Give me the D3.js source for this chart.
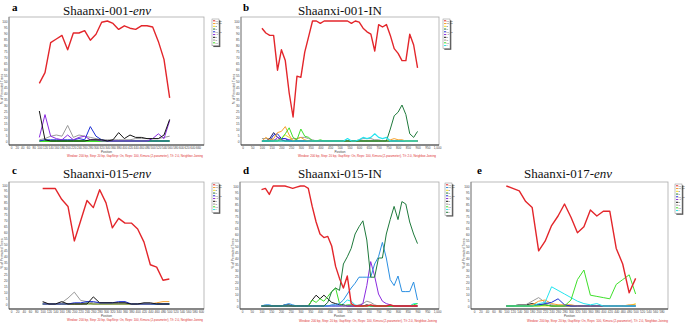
<!DOCTYPE html>
<html><head><meta charset="utf-8">
<script src="https://cdn.jsdelivr.net/npm/d3@7"></script>
<style>body{margin:0;background:#fff}svg{display:block}</style>
</head><body>
<svg id="chart" width="685" height="324"></svg>
<script>
// ---------- data ----------
const yTicks = [0,5,10,15,20,25,30,35,40,45,50,55,60,65,70,75,80,85,90,95,100];
const xTicksA = [0,20,40,60,80,100,120,140,160,180,200,220,240,260,280,300,320,340,360,380,400,420,440,460,480,500,520,540,560,580,600,620,640,660];
const xTicksB = [0,50,100,150,200,250,300,350,400,450,500,550,600,650,700,750,800,850,900,950,1000];
const xTicksC = [0,20,40,60,80,100,120,140,160,180,200,220,240,260,280,300,320,340,360,380,400,420,440,460,480,500,520,540,560,580,600];
const xTicksE = [0,20,40,60,80,100,120,140,160,180,200,220,240,260,280,300,320,340,360,380,400,420,440,460,480,500,520,540,560,580];

// Panel a: Shaanxi-001-env
const posA    = [100,120,140,160,180,200,220,240,260,280,300,320,340,360,380,400,420,440,460,480,500,520,540,560];
const redA    = [48,57,82,85,88,76,90,90,92,84,89,99,100,98,93,96,94,93,96,96,95,83,68,36];
const blackA  = [25,1,0,0,0,0,0,0,0,1,1,1,0,1,7,2,5,3,3,2,2,2,5,18];
const purpleA = [3,22,4,2,1,5,1,3,4,1,1,0,0,0,0,0,0,0,0,0,2,6,2,17];
const grayA   = [1,2,4,5,4,13,3,5,4,3,2,1,1,1,1,1,1,2,2,2,2,2,3,4];
const blueA   = [0,1,1,1,1,1,1,2,1,12,4,1,0,0,0,0,0,0,0,0,0,0,0,0];
const greenA  = [0,0,0,0,0,0,0,0,0,0,0,0,0,0,0,0,0,0,0,0,0,0,0,0];

// Panel b: Shaanxi-001-IN
const posB    = [100,120,140,160,180,200,220,240,260,280,300,320,340,360,380,400,420,440,460,480,500,520,540,560,580,600,620,640,660,680,700,720,740,760,780,800,820,840,860,880,900];
const redB    = [94,90,88,88,59,76,67,40,20,54,53,74,87,100,100,98,100,100,100,100,100,100,100,98,100,99,94,91,89,75,97,95,97,88,77,73,67,67,89,80,61];
const dkgreenB= [0,0,0,0,0,0,0,0,0,0,0,0,0,0,0,0,0,0,0,0,0,0,0,0,0,0,0,0,0,0,0,0,0,10,21,24,30,22,6,3,8];
const orangeB = [0,3,1,2,7,8,12,5,0,2,3,1,0,0,0,0,0,0,0,0,0,0,0,0,0,0,0,0,0,0,0,0,0,1,2,1,1,0,0,0,0];
const greenB  = [0,0,0,0,0,2,6,11,3,1,10,4,3,0,0,1,0,0,0,0,0,0,0,0,0,0,0,0,0,0,0,0,0,0,0,0,0,0,0,0,0];
const navyB   = [0,0,2,7,3,1,0,0,0,0,0,0,0,0,0,0,0,0,0,0,0,0,0,0,0,0,0,0,0,0,0,0,0,0,0,0,0,0,0,0,0];
const blueB   = [0,0,0,5,6,2,2,0,0,0,0,0,0,0,0,0,0,0,0,0,0,0,0,0,0,0,0,0,0,0,0,0,0,0,0,0,0,0,0,0,0];
const purpleB = [0,0,0,0,3,2,2,1,0,0,0,0,0,0,0,0,0,0,0,0,0,0,0,0,0,0,0,0,0,0,0,0,0,0,0,0,0,0,0,0,0];
const yellowB = [0,0,0,0,0,2,5,3,0,0,0,0,0,0,0,0,0,0,0,0,0,0,0,0,0,0,0,0,0,0,0,0,0,0,0,0,0,0,0,0,0];
const grayB   = [2,2,2,1,1,1,0,1,2,2,3,3,2,1,0,0,0,0,0,0,0,0,0,0,0,1,2,2,2,1,1,0,0,0,0,0,0,0,0,0,0];
const cyanB   = [0,0,0,0,0,0,0,0,0,0,0,0,0,0,0,0,0,0,0,0,0,0,2,0,0,1,3,2,3,6,3,2,3,0,0,0,0,0,0,0,0];

// Panel c: Shaanxi-015-env
const posC    = [100,120,140,160,180,200,220,240,260,280,300,320,340,360,380,400,420,440,460,480,500];
const redC    = [97,97,97,88,82,53,70,87,81,96,85,64,72,68,68,63,52,33,31,20,21];
const grayC   = [1,0,0,1,5,10,3,2,1,1,1,1,1,1,0,0,0,0,0,0,0];
const blackC  = [2,0,0,2,0,0,0,0,6,1,1,1,1,1,0,0,1,1,0,0,0];
const blueC   = [0,0,0,0,0,1,1,2,2,1,1,1,2,2,0,0,0,0,0,0,0];
const dkgreenC= [0,0,0,0,0,0,0,1,0,0,0,0,0,0,0,0,0,0,0,0,0];
const orangeC = [0,0,0,0,0,0,0,0,0,0,0,0,0,0,0,0,0,0,1,2,2];
const cyanC   = [0,0,0,0,0,0,0,0,0,0,0,0,0,0,0,0,0,0,0,0,0];

// Panel d: Shaanxi-015-IN
const posD    = posB;
const redD    = [97,98,93,100,100,100,100,99,98,99,100,100,98,83,70,60,57,58,50,33,23,15,25,2,0,0,0,0,1,0,0,0,0,1,0,0,0,0,0,0,0];
const dkgreenD= [0,0,0,0,0,0,0,0,0,0,0,0,0,0,0,0,0,3,12,15,13,35,41,48,60,66,71,55,24,24,40,40,60,72,83,72,87,85,70,60,52];
const greenD  = [0,0,0,0,0,0,0,0,0,0,0,0,0,5,3,6,4,8,12,15,2,0,1,1,0,0,0,0,0,0,0,0,0,0,0,0,0,0,0,1,2];
const dodgerD = [0,1,1,0,0,0,1,2,1,0,0,0,0,0,0,0,0,0,1,1,2,5,10,15,19,24,24,24,24,35,41,53,40,22,17,25,12,12,12,20,5];
const purpleD = [0,0,0,0,0,0,0,0,0,0,0,0,0,0,0,0,0,0,0,0,0,0,0,0,0,0,2,17,37,25,10,4,2,1,0,0,0,0,0,0,0];
const blackD  = [0,0,0,0,0,0,1,1,0,0,0,0,0,5,9,6,9,6,3,2,1,1,0,0,0,0,0,1,0,0,0,0,0,0,0,0,0,0,0,0,0];
const grayD   = [0,0,0,0,0,0,0,0,0,0,0,0,0,0,0,0,0,0,0,0,0,0,0,0,0,1,2,4,3,1,0,0,0,0,0,0,0,0,0,0,0];
const cyanD   = [0,0,0,0,0,0,0,0,0,0,0,0,0,0,0,0,0,0,0,0,0,2,5,4,1,0,0,0,0,0,0,0,0,0,0,0,0,0,0,2,2];

// Panel e: Shaanxi-017-env
const posE    = posC;
const redE    = [100,98,96,87,82,46,54,67,75,85,74,61,66,80,75,79,79,48,35,11,23];
const greenE  = [0,0,0,0,0,0,1,0,0,0,5,22,30,9,8,7,6,18,22,26,10];
const cyanE   = [0,0,0,0,0,2,3,16,13,10,7,4,2,1,2,0,0,0,0,0,0];
const grayE   = [0,0,1,1,4,7,3,1,0,0,0,0,0,0,0,0,0,0,0,0,0];
const blueE   = [0,0,0,0,0,1,2,3,6,1,0,0,0,0,0,0,0,0,0,0,0];
const orangeE = [0,0,0,0,1,4,5,2,1,1,1,0,0,0,0,0,0,0,0,1,1];
const blackE  = [0,0,1,1,2,1,1,0,0,0,0,0,0,0,0,0,0,0,0,0,0];
const yellowE = [0,0,0,0,0,0,0,0,0,0,0,0,0,0,0,0,0,0,0,0,2];

const legendA = ["07_BC","08_BC","B","C","01_AE","A1","D","G","F1"];
const legendB = ["07_BC","08_BC","B","C","01_AE","A1","D","G","F1","H"];

// ---------- styles ----------
const C = {red:"#e3262b", orange:"#f5a02a", yellow:"#f0e020", dkgreen:"#1f7a3c", blue:"#1d2fd4",
  purple:"#8b2be0", black:"#141414", gray:"#9a9a9a", green:"#3ee02a", cyan:"#24e4ef", dodger:"#2b8fe2", navy:"#1a1a6a"};

const panels = [
 {letter:"a", lx:12, ly:11, title:["Shaanxi-001-","env"], tx:107, ty:15,
  frame:{l:9,t:17,r:204,b:145}, xr:[11,198], xd:[0,660], yr:[141,21], xTicks:xTicksA,
  pos:posA, legend:{x:212,y:19,labels:legendA}, footer:{x0:67,x1:203,y:157}, posY:152.8,
  series:[[greenA,C.green,2.2],[grayA,C.gray],[blueA,C.blue],[purpleA,C.purple],[blackA,C.black],[redA,C.red,1.4]],
  legColors:[C.red,C.orange,C.yellow,C.dkgreen,C.blue,C.purple,C.black,C.gray,C.green]},
 {letter:"b", lx:243, ly:10.5, title:["Shaanxi-001-IN",""], tx:340, ty:15,
  frame:{l:241,t:17,r:439,b:145}, xr:[242.5,437], xd:[0,1000], yr:[141,21], xTicks:xTicksB,
  pos:posB, legend:{x:443,y:19,labels:legendB}, footer:{x0:298,x1:436,y:157}, posY:152.8,
  series:[[grayB,C.gray],[navyB,C.navy],[yellowB,C.yellow],[purpleB,C.purple],[blueB,C.blue],[orangeB,C.orange],[greenB,C.green],[dkgreenB,C.dkgreen],[cyanB,C.cyan,1.2],[redB,C.red,1.4]],
  legColors:[C.red,C.orange,C.yellow,C.dkgreen,C.blue,C.purple,C.black,C.gray,C.green,C.cyan]},
 {letter:"c", lx:12, ly:174, title:["Shaanxi-015-","env"], tx:107, ty:178,
  frame:{l:9,t:182,r:204,b:309}, xr:[11,201], xd:[0,600], yr:[304,185], xTicks:xTicksC,
  pos:posC, legend:{x:212,y:183,labels:legendB}, footer:{x0:67,x1:203,y:320.8}, posY:316.8,
  series:[[cyanC,C.cyan,1.3],[dkgreenC,C.dkgreen],[orangeC,C.orange],[grayC,C.gray],[blueC,C.blue],[blackC,C.black],[redC,C.red,1.4]],
  legColors:[C.red,C.orange,C.yellow,C.dkgreen,C.blue,C.purple,C.black,C.gray,C.green,C.cyan]},
 {letter:"d", lx:243, ly:174, title:["Shaanxi-015-IN",""], tx:340, ty:178,
  frame:{l:240,t:182,r:439,b:309}, xr:[242,437], xd:[0,1000], yr:[306,186], xTicks:xTicksB,
  pos:posD, legend:{x:445,y:183,labels:legendB.concat(["K"])}, footer:{x0:299,x1:437,y:321.5}, posY:316.8,
  series:[[grayD,C.gray],[cyanD,C.cyan],[blackD,C.black],[greenD,C.green],[purpleD,C.purple],[dodgerD,C.dodger],[dkgreenD,C.dkgreen],[redD,C.red,1.4]],
  legColors:[C.red,C.dodger,C.yellow,C.dkgreen,C.blue,C.purple,C.black,C.gray,C.green,C.cyan,C.dkgreen]},
 {letter:"e", lx:477, ly:174, title:["Shaanxi-017-","env"], tx:568, ty:178,
  frame:{l:471,t:182,r:668,b:309}, xr:[474,661.5], xd:[0,580], yr:[306,186], xTicks:xTicksE,
  pos:posE, legend:{x:675,y:184,labels:legendB}, footer:{x0:527,x1:668,y:321.5}, posY:316.8,
  series:[[yellowE,C.yellow],[blackE,C.black],[grayE,C.gray],[orangeE,C.orange],[blueE,C.blue],[cyanE,C.cyan],[greenE,C.green],[redE,C.red,1.4]],
  legColors:[C.red,C.orange,C.yellow,C.dkgreen,C.blue,C.purple,C.black,C.gray,C.green,C.cyan]}
];

const footerText = "Window: 200 bp, Step: 20 bp, GapStrip: On, Reps: 100, Kimura (2-parameter), T/t: 2.0, Neighbor-Joining";
const svg = d3.select("#chart");
const fmt = d3.format(",");

panels.forEach(p => {
  const g = svg.append("g");
  const x = d3.scaleLinear().domain(p.xd).range(p.xr);
  const y = d3.scaleLinear().domain([0,100]).range(p.yr);
  const f = p.frame;

  // letter + title
  g.append("text").attr("x",p.lx).attr("y",p.ly).attr("font-family","Liberation Serif")
    .attr("font-weight","bold").attr("font-size",11).text(p.letter);
  const t = g.append("text").attr("x",p.tx).attr("y",p.ty).attr("text-anchor","middle")
    .attr("font-family","Liberation Serif").attr("font-size",13).attr("fill","#111");
  t.append("tspan").text(p.title[0]);
  if (p.title[1]) t.append("tspan").attr("font-style","italic").text(p.title[1]);

  // frame
  g.append("rect").attr("x",f.l).attr("y",f.t).attr("width",f.r-f.l).attr("height",f.b-f.t)
    .attr("fill","#fff").attr("stroke","#aaa").attr("stroke-width",0.8);
  g.append("line").attr("x1",f.l).attr("x2",f.l).attr("y1",f.t).attr("y2",f.b).attr("stroke","#777").attr("stroke-width",0.8);
  g.append("line").attr("x1",f.l).attr("x2",f.r).attr("y1",f.b).attr("y2",f.b).attr("stroke","#333").attr("stroke-width",1.2);

  // y axis labels
  const ya = d3.axisLeft(y).tickValues(yTicks).tickSize(0).tickPadding(1.5);
  const yg = g.append("g").attr("transform",`translate(${f.l},0)`).call(ya);
  yg.select(".domain").remove();
  yg.selectAll("text").attr("font-size",3.2).attr("font-family","Liberation Sans").attr("fill","#444");

  // x axis labels
  const xa = d3.axisBottom(x).tickValues(p.xTicks).tickSize(0).tickPadding(1.4).tickFormat(fmt);
  const xg = g.append("g").attr("transform",`translate(0,${f.b})`).call(xa);
  xg.select(".domain").remove();
  xg.selectAll("text").attr("font-size",3.1).attr("font-family","Liberation Sans").attr("fill","#444");

  // axis titles
  g.append("text").attr("x",(f.l+f.r)/2).attr("y",p.posY).attr("text-anchor","middle")
    .attr("font-size",3.1).attr("font-family","Liberation Sans").attr("fill","#444").text("Position");
  g.append("text").attr("transform",`translate(${f.l-6.5},${(f.t+f.b)/2+8}) rotate(-90)`).attr("text-anchor","middle")
    .attr("font-size",3.2).attr("font-family","Liberation Sans").attr("fill","#444").text("% of Permuted Trees");
  g.append("text").attr("x",p.footer.x0).attr("y",p.footer.y).attr("textLength",p.footer.x1-p.footer.x0)
    .attr("lengthAdjust","spacingAndGlyphs").attr("font-size",3.4).attr("font-family","Liberation Sans")
    .attr("fill","#e03030").text(footerText);

  // lines
  const line = d3.line().x((d,i)=>x(p.pos[i])).y(d=>y(d));
  p.series.forEach(s => {
    g.append("path").datum(s[0]).attr("d",line).attr("fill","none")
      .attr("stroke",s[1]).attr("stroke-width",s[2]||1).attr("stroke-linejoin","round");
  });

  // legend
  const L = p.legend, n = p.legColors.length, step = 2.75, h = n*step+2;
  g.append("rect").attr("x",L.x+1.3).attr("y",L.y+1.3).attr("width",7).attr("height",h).attr("fill","#555");
  g.append("rect").attr("x",L.x).attr("y",L.y).attr("width",7).attr("height",h).attr("fill","#fff").attr("stroke","#888").attr("stroke-width",0.5);
  p.legColors.forEach((c,i) => {
    const yy = L.y + 1.8 + i*step;
    g.append("line").attr("x1",L.x+1).attr("x2",L.x+3.2).attr("y1",yy).attr("y2",yy).attr("stroke",c).attr("stroke-width",1);
    g.append("text").attr("x",L.x+3.6).attr("y",yy+0.8).attr("font-size",2).attr("font-family","Liberation Sans")
      .attr("fill","#333").text(L.labels[i] || "");
  });
});
</script>
</body></html>
